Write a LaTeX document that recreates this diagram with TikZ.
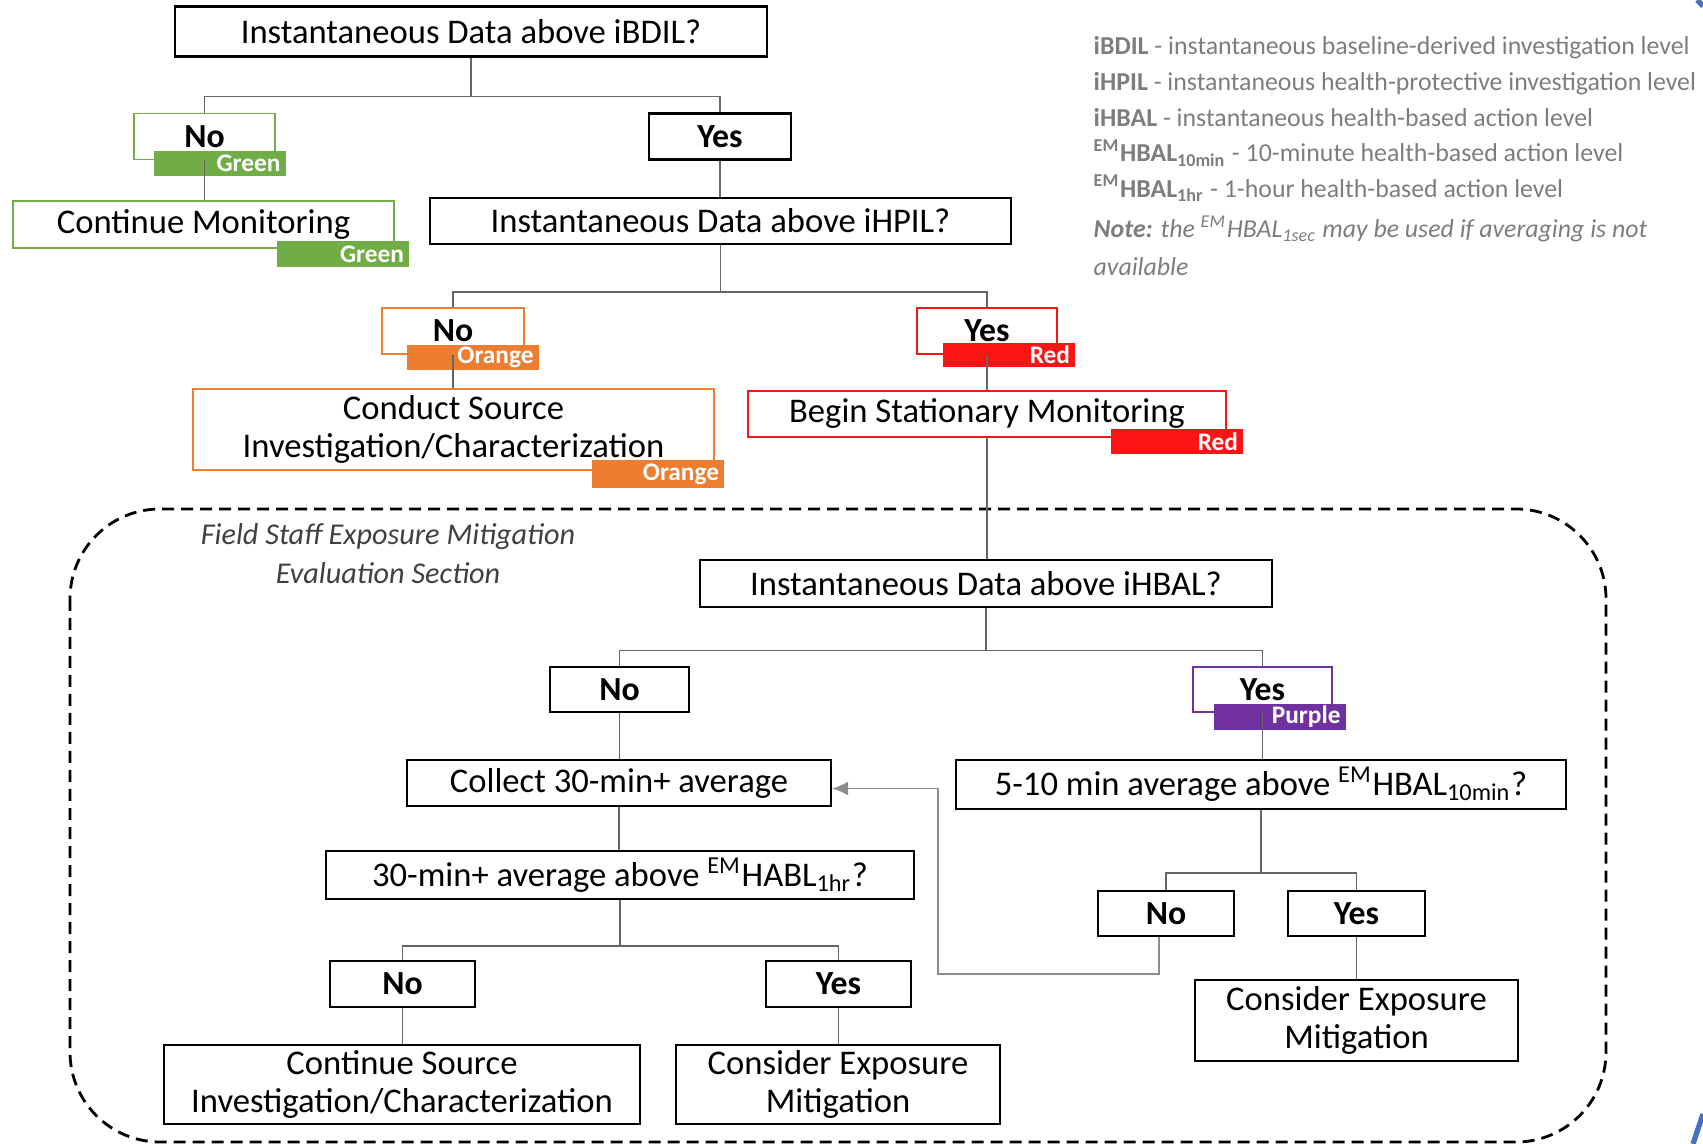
\documentclass[tikz,border=0pt]{standalone}
\usepackage{fontspec}
\setmainfont{Carlito}
\usetikzlibrary{arrows.meta}

\definecolor{grn}{RGB}{112,173,71}
\definecolor{orng}{RGB}{237,125,49}
\definecolor{rd}{RGB}{250,20,20}
\definecolor{prpl}{RGB}{112,48,160}
\definecolor{lgray}{RGB}{125,125,125}
\definecolor{edgeblue}{RGB}{68,114,196}

\newcommand{\mainsz}{\fontsize{9.85}{11}\selectfont}

\begin{document}
\begin{tikzpicture}[
  box/.style={draw=black, line width=0.6pt, fill=white, inner sep=0pt, align=center, font=\mainsz},
  cbox/.style={box, draw=#1, line width=0.5pt},
  ans/.style={draw=black, line width=0.6pt, fill=white, inner sep=0pt, minimum width=1.42cm, minimum height=0.46cm, font=\fontsize{9.6}{11}\selectfont\bfseries},
  tag/.style={fill=#1, text=white, inner xsep=0.05cm, inner ysep=0pt, minimum height=0.25cm, text width=1.22cm, align=right, font=\fontsize{7.2}{8}\selectfont\bfseries},
  conn/.style={draw=black!60, line width=0.5pt},
  back/.style={draw=black!45, line width=0.5pt, -{Latex[length=1.6mm,width=1.4mm]}},
  legend/.style={anchor=west, inner sep=0pt, text=lgray, font=\fontsize{7.35}{8}\selectfont},
  sect/.style={inner sep=0pt, text=black!75, font=\fontsize{8.6}{10}\selectfont\itshape}
]
\useasboundingbox (0,0) rectangle (17.03,-11.44);

% legend
\node[legend] (lg1) at (10.93,-0.48) {\textbf{iBDIL} - instantaneous baseline-derived investigation level};
\node[legend] (lg2) at (10.93,-0.84) {\textbf{iHPIL} - instantaneous health-protective investigation level};
\node[legend] (lg3) at (10.93,-1.18) {\textbf{iHBAL} - instantaneous health-based action level};
\node[legend] (lg4) at (10.93,-1.53) {\textbf{\textsuperscript{EM}HBAL\textsubscript{10min}} - 10-minute health-based action level};
\node[legend] (lg5) at (10.93,-1.88) {\textbf{\textsuperscript{EM}HBAL\textsubscript{1hr}} - 1-hour health-based action level};
\node[legend] (lg6) at (10.93,-2.29) {\itshape\textbf{Note:} the \textsuperscript{EM}HBAL\textsubscript{1sec} may be used if averaging is not};
\node[legend] (lg7) at (10.93,-2.67) {\itshape available};

% field staff section
\draw[line width=0.8pt, dash pattern=on 0.12cm off 0.07cm, rounded corners=0.9cm] (0.70,-5.09) rectangle (16.06,-11.42);
\node[sect] (sect1) at (3.88,-5.37) {Field Staff Exposure Mitigation};
\node[sect] (sect2) at (3.88,-5.73) {Evaluation Section};

% upper part
\node[box, minimum width=5.92cm, minimum height=0.50cm] (bdil) at (4.71,-0.315) {Instantaneous Data above iBDIL?};
\node[ans, draw=grn, line width=0.5pt, minimum width=1.41cm] (noA) at (2.045,-1.365) {No};
\node[tag=grn] (noAtag) at (2.195,-1.635) {Green};
\node[ans] (yesA) at (7.20,-1.365) {Yes};
\node[cbox=grn, minimum width=3.81cm, minimum height=0.47cm] (contMon) at (2.035,-2.245) {Continue Monitoring};
\node[tag=grn, minimum height=0.26cm] (contMontag) at (3.43,-2.54) {Green};
\node[box, minimum width=5.81cm, minimum height=0.46cm] (hpil) at (7.205,-2.21) {Instantaneous Data above iHPIL?};

\node[ans, draw=orng, line width=0.5pt] (noB) at (4.53,-3.31) {No};
\node[tag=orng] (noBtag) at (4.725,-3.575) {Orange};
\node[ans, draw=rd, line width=0.5pt, minimum width=1.40cm] (yesB) at (9.87,-3.31) {Yes};
\node[tag=rd, minimum height=0.24cm] (yesBtag) at (10.09,-3.55) {Red};
\node[cbox=orng, minimum width=5.21cm, minimum height=0.81cm] (conduct) at (4.535,-4.295) {Conduct Source\\Investigation/Characterization};
\node[tag=orng, minimum height=0.28cm] (conducttag) at (6.58,-4.74) {Orange};
\node[cbox=rd, minimum width=4.78cm, minimum height=0.46cm] (begin) at (9.87,-4.14) {Begin Stationary Monitoring};
\node[tag=rd] (begintag) at (11.77,-4.415) {Red};

% lower part
\node[box, minimum width=5.72cm, minimum height=0.47cm] (hbal) at (9.86,-5.835) {Instantaneous Data above iHBAL?};
\node[ans, minimum width=1.39cm, minimum height=0.45cm] (noC) at (6.195,-6.895) {No};
\node[ans, draw=prpl, line width=0.5pt, minimum width=1.39cm, minimum height=0.45cm] (yesC) at (12.625,-6.895) {Yes};
\node[tag=prpl, minimum height=0.26cm] (yesCtag) at (12.795,-7.17) {Purple};
\node[box, minimum width=4.24cm, minimum height=0.46cm] (collect) at (6.19,-7.83) {Collect 30-min+ average};
\node[box, minimum width=6.10cm, minimum height=0.49cm] (avgten) at (12.61,-7.845) {5-10 min average above \textsuperscript{EM}HBAL\textsubscript{10min}?};
\node[box, minimum width=5.88cm, minimum height=0.48cm] (avgthirty) at (6.20,-8.75) {30-min+ average above \textsuperscript{EM}HABL\textsubscript{1hr}?};
\node[ans, minimum width=1.45cm] (noD) at (4.025,-9.84) {No};
\node[ans, minimum width=1.45cm] (yesD) at (8.385,-9.84) {Yes};
\node[box, minimum width=4.76cm, minimum height=0.79cm] (contSrc) at (4.02,-10.845) {Continue Source\\Investigation/Characterization};
\node[box, minimum width=3.24cm, minimum height=0.79cm] (considerL) at (8.38,-10.845) {Consider Exposure\\Mitigation};
\node[ans, minimum width=1.36cm, minimum height=0.45cm] (noE) at (11.66,-9.135) {No};
\node[ans, minimum width=1.37cm, minimum height=0.45cm] (yesE) at (13.565,-9.135) {Yes};
\node[box, minimum width=3.23cm, minimum height=0.81cm] (considerR) at (13.565,-10.205) {Consider Exposure\\Mitigation};

% connectors
\draw[conn] (bdil.south) -- ++(0,-0.39) -| (noA.north);
\draw[conn] (bdil.south) -- ++(0,-0.39) -| (yesA.north);
\draw[conn] (noA.south) -- (noA.south |- contMon.north);
\draw[conn] (yesA.south) -- (yesA.south |- hpil.north);
\draw[conn] (hpil.south) -- ++(0,-0.47) -| (noB.north);
\draw[conn] (hpil.south) -- ++(0,-0.47) -| (yesB.north);
\draw[conn] (noB.south) -- (noB.south |- conduct.north);
\draw[conn] (yesB.south) -- (yesB.south |- begin.north);
\draw[conn] (begin.south) -- (begin.south |- hbal.north);
\draw[conn] (hbal.south) -- ++(0,-0.425) -| (noC.north);
\draw[conn] (hbal.south) -- ++(0,-0.425) -| (yesC.north);
\draw[conn] (noC.south) -- (noC.south |- collect.north);
\draw[conn] (yesC.south) -- (yesC.south |- avgten.north);
\draw[conn] (collect.south) -- (collect.south |- avgthirty.north);
\draw[conn] (avgthirty.south) -- ++(0,-0.46) -| (noD.north);
\draw[conn] (avgthirty.south) -- ++(0,-0.46) -| (yesD.north);
\draw[conn] (noD.south) -- (noD.south |- contSrc.north);
\draw[conn] (yesD.south) -- (yesD.south |- considerL.north);
\draw[conn] (avgten.south) -- ++(0,-0.63) -| (noE.north);
\draw[conn] (avgten.south) -- ++(0,-0.63) -| (yesE.north);
\draw[conn] (yesE.south) -- (yesE.south |- considerR.north);
\coordinate (loopturn) at (9.38,-9.74);
\draw[back] ([xshift=-0.07cm]noE.south) |- (loopturn) |- ([yshift=-0.055cm]collect.east);

% page edge
\draw[edgeblue, line width=1.5pt] (16.97,0) -- (17.03,-0.06);
\draw[edgeblue, line width=1.5pt] (17.03,-11.14) -- (16.93,-11.44);

\end{tikzpicture}
\end{document}
